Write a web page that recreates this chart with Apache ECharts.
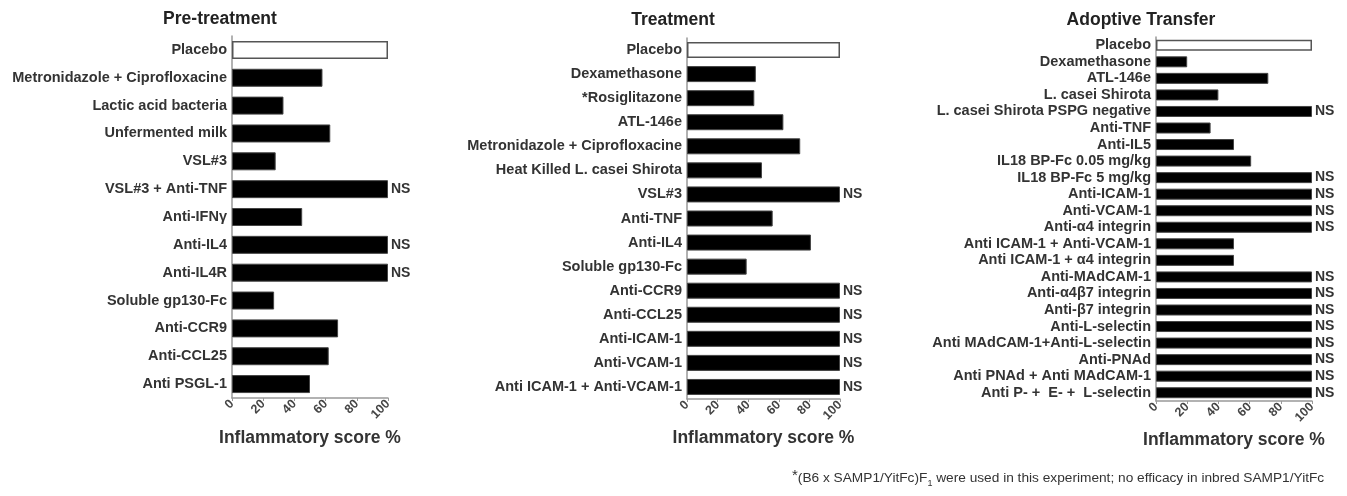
<!DOCTYPE html>
<html>
<head>
<meta charset="utf-8">
<script src="https://cdn.jsdelivr.net/npm/echarts@6/dist/echarts.min.js"></script>
<style>
  html, body { margin: 0; padding: 0; background: #fff; }
  #chart { width: 1347px; height: 496px; }
</style>
</head>
<body>
<div id="chart"></div>
<script>
// Pre-treatment
var preCats = ['Placebo', 'Metronidazole + Ciprofloxacine', 'Lactic acid bacteria', 'Unfermented milk', 'VSL#3',
  'VSL#3 + Anti-TNF', 'Anti-IFNγ', 'Anti-IL4', 'Anti-IL4R', 'Soluble gp130-Fc', 'Anti-CCR9', 'Anti-CCL25', 'Anti PSGL-1']
var preValues = [100, 58, 33, 63, 28, 100, 45, 100, 100, 27, 68, 62, 50]
var preNS = ['VSL#3 + Anti-TNF', 'Anti-IL4', 'Anti-IL4R']

// Treatment
var trtCats = ['Placebo', 'Dexamethasone', '*Rosiglitazone', 'ATL-146e', 'Metronidazole + Ciprofloxacine',
  'Heat Killed L. casei Shirota', 'VSL#3', 'Anti-TNF', 'Anti-IL4', 'Soluble gp130-Fc', 'Anti-CCR9', 'Anti-CCL25',
  'Anti-ICAM-1', 'Anti-VCAM-1', 'Anti ICAM-1 + Anti-VCAM-1']
var trtValues = [100, 45, 44, 63, 74, 49, 100, 56, 81, 39, 100, 100, 100, 100, 100]
var trtNS = ['VSL#3', 'Anti-CCR9', 'Anti-CCL25', 'Anti-ICAM-1', 'Anti-VCAM-1', 'Anti ICAM-1 + Anti-VCAM-1']

// Adoptive Transfer
var adtCats = ['Placebo', 'Dexamethasone', 'ATL-146e', 'L. casei Shirota', 'L. casei Shirota PSPG negative',
  'Anti-TNF', 'Anti-IL5', 'IL18 BP-Fc 0.05 mg/kg', 'IL18 BP-Fc 5 mg/kg', 'Anti-ICAM-1', 'Anti-VCAM-1',
  'Anti-α4 integrin', 'Anti ICAM-1 + Anti-VCAM-1', 'Anti ICAM-1 + α4 integrin', 'Anti-MAdCAM-1',
  'Anti-α4β7 integrin', 'Anti-β7 integrin', 'Anti-L-selectin', 'Anti MAdCAM-1+Anti-L-selectin', 'Anti-PNAd',
  'Anti PNAd + Anti MAdCAM-1', 'Anti P- +  E- +  L-selectin']
var adtValues = [100, 20, 72, 40, 100, 35, 50, 61, 100, 100, 100, 100, 50, 50, 100, 100, 100, 100, 100, 100, 100, 100]
var adtNS = ['L. casei Shirota PSPG negative', 'IL18 BP-Fc 5 mg/kg', 'Anti-ICAM-1', 'Anti-VCAM-1', 'Anti-α4 integrin',
  'Anti-MAdCAM-1', 'Anti-α4β7 integrin', 'Anti-β7 integrin', 'Anti-L-selectin', 'Anti MAdCAM-1+Anti-L-selectin',
  'Anti-PNAd', 'Anti PNAd + Anti MAdCAM-1', 'Anti P- +  E- +  L-selectin']

var titles = ['Pre-treatment', 'Treatment', 'Adoptive Transfer']
var xTicks = [0, 20, 40, 60, 80, 100]

var FONT = 'Liberation Sans'
var grids = [], xAxes = [], yAxes = [], series = []

function addPanel(idx, cats, vals, ns, box, barW, nameGap) {
  grids.push({ left: box.left, top: box.top, width: box.width, height: box.height })
  xAxes.push({
    gridIndex: idx,
    type: 'value',
    min: xTicks[0],
    max: xTicks[xTicks.length - 1],
    interval: 20,
    name: 'Inflammatory score %',
    nameLocation: 'middle',
    nameGap: nameGap,
    nameTextStyle: { fontFamily: FONT, fontWeight: 'bold', fontSize: 17.5, color: '#333' },
    axisLine: { show: true, lineStyle: { color: '#999', width: 1.5 } },
    axisTick: { show: true, length: 3, lineStyle: { color: '#999' } },
    axisLabel: { rotate: 45, margin: 4, fontFamily: FONT, fontWeight: 'bold', fontSize: 12.5, color: '#444' },
    splitLine: { show: false }
  })
  yAxes.push({
    gridIndex: idx,
    type: 'category',
    inverse: true,
    data: cats,
    axisLine: { show: true, lineStyle: { color: '#999', width: 1.5 } },
    axisTick: { show: false },
    axisLabel: { interval: 0, margin: 5, fontFamily: FONT, fontWeight: 'bold', fontSize: 14.5, color: '#333' }
  })
  series.push({
    type: 'bar',
    xAxisIndex: idx,
    yAxisIndex: idx,
    barWidth: barW,
    data: vals.map(function (v, i) {
      var placebo = cats[i] === 'Placebo'
      return {
        value: v,
        itemStyle: placebo
          ? { color: '#fff', borderColor: '#555', borderWidth: 1.5 }
          : { color: '#000', borderColor: '#444', borderWidth: 1 }
      }
    }),
    label: {
      show: true,
      position: 'right',
      distance: 3,
      fontFamily: FONT,
      fontWeight: 'bold',
      fontSize: 14,
      color: '#333',
      formatter: function (p) { return ns.indexOf(p.name) >= 0 ? 'NS' : '' }
    }
  })
}

addPanel(0, preCats, preValues, preNS, { left: 232, top: 36, width: 156, height: 362 }, 18, 31)
addPanel(1, trtCats, trtValues, trtNS, { left: 687, top: 38, width: 153, height: 361 }, 16, 30)
addPanel(2, adtCats, adtValues, adtNS, { left: 1156, top: 37, width: 156, height: 364 }, 11, 28)

var chart = echarts.init(document.getElementById('chart'))
chart.setOption({
  backgroundColor: '#fff',
  animation: false,
  grid: grids,
  xAxis: xAxes,
  yAxis: yAxes,
  series: series,
  graphic: [
    { type: 'text', x: 220, y: 19, style: { text: titles[0], align: 'center', verticalAlign: 'middle', font: 'bold 17.5px ' + FONT, fill: '#222' } },
    { type: 'text', x: 673, y: 20, style: { text: titles[1], align: 'center', verticalAlign: 'middle', font: 'bold 17.5px ' + FONT, fill: '#222' } },
    { type: 'text', x: 1141, y: 20, style: { text: titles[2], align: 'center', verticalAlign: 'middle', font: 'bold 17.5px ' + FONT, fill: '#222' } },
    {
      type: 'text', x: 792, y: 478,
      style: {
        text: '{sup|*}{t|(B6 x SAMP1/YitFc)F}{sub|1}{t| were used in this experiment; no efficacy in inbred SAMP1/YitFc}',
        verticalAlign: 'middle',
        rich: {
          t: { fontFamily: FONT, fontSize: 13.7, fill: '#333', lineHeight: 20, verticalAlign: 'middle' },
          sup: { fontFamily: FONT, fontSize: 15, fill: '#333', lineHeight: 20, verticalAlign: 'top' },
          sub: { fontFamily: FONT, fontSize: 9, fill: '#333', lineHeight: 20, verticalAlign: 'bottom' }
        }
      }
    }
  ]
})
</script>
</body>
</html>
